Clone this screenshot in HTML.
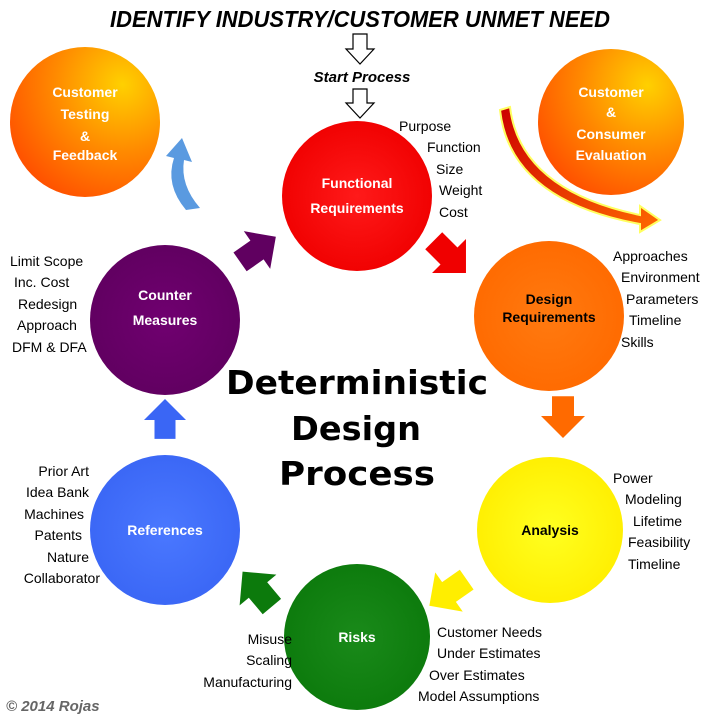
<!DOCTYPE html>
<html><head><meta charset="utf-8"><style>
body{margin:0;background:#fff}
svg{display:block}
text{font-family:"Liberation Sans",sans-serif}
.b{font-weight:bold;fill:#fff;font-size:14px;text-anchor:middle}
.l{font-size:14px;fill:#000}
</style></head><body>
<svg width="720" height="720" viewBox="0 0 720 720">
<defs>
<radialGradient id="gO" cx="0.75" cy="0.25" r="0.9"><stop offset="0" stop-color="#ffd000"/><stop offset="0.5" stop-color="#ff8a00"/><stop offset="1" stop-color="#ff4a00"/></radialGradient>
<radialGradient id="gR" cx="0.5" cy="0.5" r="0.6"><stop offset="0" stop-color="#ff1a1a"/><stop offset="0.9" stop-color="#f00000"/><stop offset="1" stop-color="#c00"/></radialGradient>
<radialGradient id="gD" cx="0.5" cy="0.5" r="0.6"><stop offset="0" stop-color="#ff7a10"/><stop offset="0.9" stop-color="#ff6a00"/><stop offset="1" stop-color="#d05000"/></radialGradient>
<radialGradient id="gY" cx="0.5" cy="0.5" r="0.6"><stop offset="0" stop-color="#ffff20"/><stop offset="0.9" stop-color="#ffee00"/><stop offset="1" stop-color="#d8c800"/></radialGradient>
<radialGradient id="gG" cx="0.5" cy="0.5" r="0.6"><stop offset="0" stop-color="#1a8a1a"/><stop offset="0.9" stop-color="#0c7a0c"/><stop offset="1" stop-color="#3fb03f"/></radialGradient>
<radialGradient id="gB" cx="0.5" cy="0.5" r="0.6"><stop offset="0" stop-color="#4a78ff"/><stop offset="0.9" stop-color="#3a66f5"/><stop offset="1" stop-color="#7aa0ff"/></radialGradient>
<radialGradient id="gP" cx="0.5" cy="0.5" r="0.6"><stop offset="0" stop-color="#700070"/><stop offset="0.9" stop-color="#600060"/><stop offset="1" stop-color="#8a208a"/></radialGradient>
<linearGradient id="gA" x1="0" y1="0" x2="1" y2="1"><stop offset="0" stop-color="#cc0000"/><stop offset="1" stop-color="#ff6a00"/></linearGradient>
<polygon id="ar" points="-18,-10 0,-10 0,-20 20,0 0,20 0,10 -18,10"/>
</defs>
<text x="360" y="27" text-anchor="middle" font-size="23" font-weight="bold" font-style="italic" textLength="500" lengthAdjust="spacingAndGlyphs">IDENTIFY INDUSTRY/CUSTOMER UNMET NEED</text>
<polygon points="353,34 367,34 367,49 374,49 360,64 346,49 353,49" fill="#fff" stroke="#000" stroke-width="1.2"/>
<text x="362" y="82" text-anchor="middle" font-size="15" font-weight="bold" font-style="italic">Start Process</text>
<polygon points="353,89 367,89 367,103 374,103 360,118 346,103 353,103" fill="#fff" stroke="#000" stroke-width="1.2"/>

<circle cx="85" cy="122" r="75" fill="url(#gO)"/>
<text class="b" x="85" y="97">Customer</text><text class="b" x="85" y="119">Testing</text><text class="b" x="85" y="141">&amp;</text><text class="b" x="85" y="160">Feedback</text>
<circle cx="611" cy="122" r="73" fill="url(#gO)"/>
<text class="b" x="611" y="97">Customer</text><text class="b" x="611" y="117">&amp;</text><text class="b" x="611" y="139">Consumer</text><text class="b" x="611" y="160">Evaluation</text>

<path d="M510,107 Q520,190 640,215 L640,206 L660,220 L640,232 L640,224 Q510,200 500,110 Z" fill="url(#gA)" stroke="#ffff60" stroke-width="2"/>
<path d="M186,210 Q165,185 174,158 L166,156 L182,138 L192,162 L184,160 Q180,185 200,208 Z" fill="#5a9ae0"/>

<circle cx="357" cy="196" r="75" fill="url(#gR)"/>
<text class="b" x="357" y="188">Functional</text><text class="b" x="357" y="213">Requirements</text>
<circle cx="549" cy="316" r="75" fill="url(#gD)"/>
<text class="b" x="549" y="304" style="fill:#000">Design</text><text class="b" x="549" y="322" style="fill:#000">Requirements</text>
<circle cx="550" cy="530" r="73" fill="url(#gY)"/>
<text class="b" x="550" y="535" style="fill:#000">Analysis</text>
<circle cx="357" cy="637" r="73" fill="url(#gG)"/>
<text class="b" x="357" y="642">Risks</text>
<circle cx="165" cy="530" r="75" fill="url(#gB)"/>
<text class="b" x="165" y="535">References</text>
<circle cx="165" cy="320" r="75" fill="url(#gP)"/>
<text class="b" x="165" y="300">Counter</text><text class="b" x="165" y="325">Measures</text>

<use href="#ar" fill="#600060" transform="translate(257,250) rotate(-35) scale(1.15)"/>
<use href="#ar" fill="#f00000" transform="translate(449,256) rotate(45) scale(1.2)"/>
<use href="#ar" fill="#ff6a00" transform="translate(563,416) rotate(90) scale(1.1)"/>
<use href="#ar" fill="#ffee00" transform="translate(449,592) rotate(145) scale(1.2)"/>
<use href="#ar" fill="#0c7a0c" transform="translate(258,590) rotate(-130) scale(1.2)"/>
<use href="#ar" fill="#3a66f5" transform="translate(165,420) rotate(-90) scale(1.05)"/>

<text x="399" y="131" class="l">Purpose</text><text x="427" y="152" class="l">Function</text><text x="436" y="174" class="l">Size</text><text x="439" y="195" class="l">Weight</text><text x="439" y="217" class="l">Cost</text>
<text x="613" y="261" class="l">Approaches</text><text x="621" y="282" class="l">Environment</text><text x="626" y="304" class="l">Parameters</text><text x="629" y="325" class="l">Timeline</text><text x="621" y="347" class="l">Skills</text>
<text x="613" y="483" class="l">Power</text><text x="625" y="504" class="l">Modeling</text><text x="633" y="526" class="l">Lifetime</text><text x="628" y="547" class="l">Feasibility</text><text x="628" y="569" class="l">Timeline</text>
<text x="437" y="637" class="l">Customer Needs</text><text x="437" y="658" class="l">Under Estimates</text><text x="429" y="680" class="l">Over Estimates</text><text x="418" y="701" class="l">Model Assumptions</text>
<text x="292" y="644" text-anchor="end" class="l">Misuse</text><text x="292" y="665" text-anchor="end" class="l">Scaling</text><text x="292" y="687" text-anchor="end" class="l">Manufacturing</text>
<text x="89" y="476" text-anchor="end" class="l">Prior Art</text><text x="89" y="497" text-anchor="end" class="l">Idea Bank</text><text x="84" y="519" text-anchor="end" class="l">Machines</text><text x="82" y="540" text-anchor="end" class="l">Patents</text><text x="89" y="562" text-anchor="end" class="l">Nature</text><text x="100" y="583" text-anchor="end" class="l">Collaborator</text>
<text x="10" y="266" class="l">Limit Scope</text><text x="14" y="287" class="l">Inc. Cost</text><text x="18" y="309" class="l">Redesign</text><text x="17" y="330" class="l">Approach</text><text x="12" y="352" class="l">DFM &amp; DFA</text>

<g style="font-family:'DejaVu Sans',sans-serif;font-weight:bold;font-size:33px" text-anchor="middle">
<text x="357" y="394" style="font-family:'DejaVu Sans',sans-serif" textLength="262" lengthAdjust="spacingAndGlyphs">Deterministic</text>
<text x="356" y="440" style="font-family:'DejaVu Sans',sans-serif" textLength="130" lengthAdjust="spacingAndGlyphs">Design</text>
<text x="357" y="485" style="font-family:'DejaVu Sans',sans-serif" textLength="156" lengthAdjust="spacingAndGlyphs">Process</text>
</g>
<text x="6" y="711" font-size="15" font-weight="bold" font-style="italic" fill="#666">© 2014 Rojas</text>
</svg>
</body></html>
